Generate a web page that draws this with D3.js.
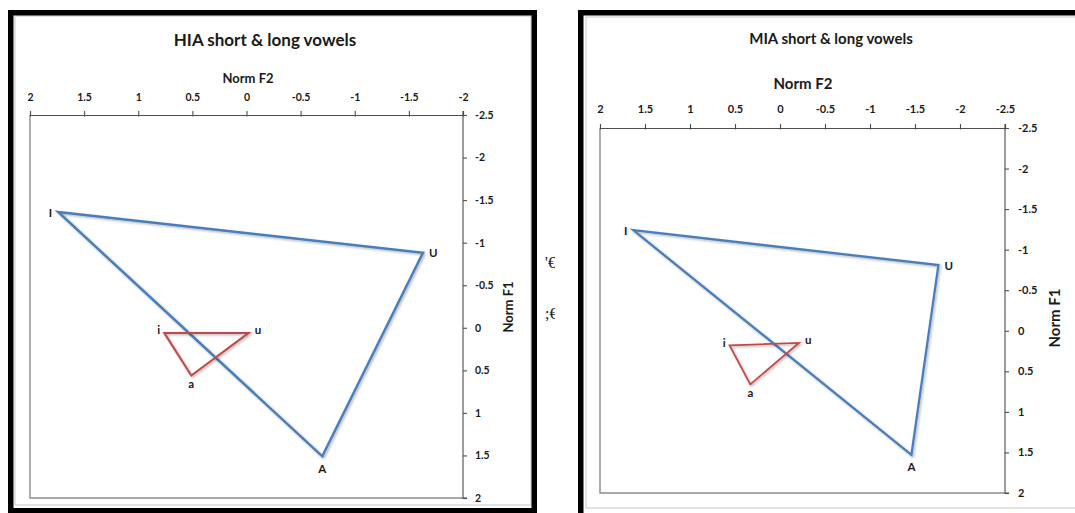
<!DOCTYPE html>
<html>
<head>
<meta charset="utf-8">
<script src="https://cdn.jsdelivr.net/npm/d3@7"></script>
<style>
  html, body { margin: 0; padding: 0; background: #fff; }
  svg { display: block; font-family: Lato, "Open Sans", "Liberation Sans", sans-serif; }
</style>
</head>
<body>
<svg id="chart" width="1075" height="513"></svg>
<script>
// Vowel labels
const longVowels = ["I", "U", "A"];
const shortVowels = ["i", "u", "a"];

// HIA: normalised formant values (F2 horizontal, F1 vertical)
const hiaLongF2 = [1.74, -1.63, -0.70];
const hiaLongF1 = [-1.36, -0.88, 1.51];
const hiaShortF2 = [0.76, -0.02, 0.51];
const hiaShortF1 = [0.06, 0.06, 0.56];

// MIA: normalised formant values
const miaLongF2 = [1.63, -1.76, -1.46];
const miaLongF1 = [-1.24, -0.81, 1.53];
const miaShortF2 = [0.56, -0.21, 0.33];
const miaShortF1 = [0.18, 0.15, 0.66];

// Axis ticks
const hiaF2Ticks = [2, 1.5, 1, 0.5, 0, -0.5, -1, -1.5, -2];
const miaF2Ticks = [2, 1.5, 1, 0.5, 0, -0.5, -1, -1.5, -2, -2.5];
const f1Ticks = [-2.5, -2, -1.5, -1, -0.5, 0, 0.5, 1, 1.5, 2];

const svg = d3.select("#chart");
const fmt = d => String(d);

const defs = svg.append("defs");
const shadow = defs.append("filter").attr("id", "lineShadow")
  .attr("x", "-10%").attr("y", "-10%").attr("width", "130%").attr("height", "130%");
shadow.append("feDropShadow")
  .attr("dx", 1.3).attr("dy", 1.3).attr("stdDeviation", 0.9)
  .attr("flood-color", "#000").attr("flood-opacity", 0.3);

defs.append("clipPath").attr("id", "gapClip")
  .append("rect").attr("x", 540).attr("y", 0).attr("width", 15).attr("height", 513);

// Labels that sit on the document behind the two charts, partly covered by them
const gap = svg.append("g").attr("clip-path", "url(#gapClip)")
  .style("font-family", "'Liberation Serif', serif").style("font-size", "16px").attr("fill", "#222");
gap.append("text").attr("x", 545).attr("y", 268).text("'€");
gap.append("text").attr("x", 545).attr("y", 319).text(";€");

const labelPlacement = {
  I: { dx: -6, dy: 0, anchor: "end" },
  U: { dx: 6, dy: 0, anchor: "start" },
  A: { dx: 0, dy: 12, anchor: "middle" },
  i: { dx: -4, dy: -3, anchor: "end" },
  u: { dx: 6, dy: -3, anchor: "start" },
  a: { dx: 0, dy: 8, anchor: "middle" }
};

function drawPanel(p) {
  const g = svg.append("g");

  // chart-area outline and heavy frame
  g.append("rect")
    .attr("x", p.inner[0]).attr("y", p.inner[1])
    .attr("width", p.inner[2]).attr("height", p.inner[3])
    .attr("fill", "#fff").attr("stroke", "#c8c8c8").attr("stroke-width", 1);
  g.append("rect")
    .attr("x", p.frame[0]).attr("y", p.frame[1])
    .attr("width", p.frame[2]).attr("height", p.frame[3])
    .attr("fill", "none").attr("stroke", "#000").attr("stroke-width", 5.5);

  const x = d3.scaleLinear().domain(p.f2Domain).range([p.plot.left, p.plot.right]);
  const y = d3.scaleLinear().domain([-2.5, 2]).range([p.plot.top, p.plot.bottom]);

  // plot-area border (left and bottom)
  g.append("path")
    .attr("d", `M${p.plot.left},${p.plot.top}V${p.plot.bottom}H${p.plot.right}`)
    .attr("fill", "none").attr("stroke", "#8c8c8c").attr("stroke-width", 1.4);

  // Norm F2 axis along the top
  const xAxis = g.append("g")
    .attr("transform", `translate(0,${p.plot.top})`)
    .call(d3.axisTop(x).tickValues(p.f2Ticks).tickFormat(fmt).tickSize(4).tickPadding(p.xPad));
  xAxis.selectAll(".tick line").attr("y1", 1.5);

  // Norm F1 axis on the right
  const yAxis = g.append("g")
    .attr("transform", `translate(${p.plot.right},0)`)
    .call(d3.axisRight(y).tickValues(f1Ticks).tickFormat(fmt).tickSize(4).tickPadding(p.yPad));

  [xAxis, yAxis].forEach(ax => {
    ax.select(".domain").attr("stroke", "#4d4d4d").attr("stroke-width", 1.1);
    ax.selectAll(".tick line").attr("stroke", "#4d4d4d").attr("stroke-width", 1.1);
    ax.selectAll(".tick text")
      .attr("fill", "#1a1a1a")
      .style("font-family", "Lato, sans-serif")
      .style("font-weight", "bold")
      .style("font-size", p.tickSize + "px");
  });
  yAxis.select(".domain").attr("d", `M0,${p.plot.top - 4}V${p.plot.bottom}H4`);

  // titles
  g.append("text")
    .attr("x", p.titlePos[0]).attr("y", p.titlePos[1])
    .attr("text-anchor", "middle").attr("dominant-baseline", "central")
    .attr("fill", "#1a1a1a")
    .style("font-weight", "bold").style("font-size", p.titleSize + "px")
    .text(p.title);
  g.append("text")
    .attr("x", p.f2Pos[0]).attr("y", p.f2Pos[1])
    .attr("text-anchor", "middle").attr("dominant-baseline", "central")
    .attr("fill", "#1a1a1a")
    .style("font-weight", "bold").style("font-size", p.axisTitleSize + "px")
    .text("Norm F2");
  g.append("text")
    .attr("transform", `translate(${p.f1Pos[0]},${p.f1Pos[1]}) rotate(-90)`)
    .attr("text-anchor", "middle").attr("dominant-baseline", "central")
    .attr("fill", "#1a1a1a")
    .style("font-weight", "bold").style("font-size", p.axisTitleSize + "px")
    .text("Norm F1");

  const line = d3.line().x(d => x(d.f2)).y(d => y(d.f1)).curve(d3.curveLinearClosed);

  p.series.forEach(s => {
    const pts = s.names.map((n, k) => ({ name: n, f2: s.f2[k], f1: s.f1[k] }));
    g.append("path")
      .datum(pts)
      .attr("d", line)
      .attr("fill", "none")
      .attr("stroke", s.color)
      .attr("stroke-width", s.width)
      .attr("stroke-linejoin", "miter")
      .attr("filter", "url(#lineShadow)");
    g.selectAll(null).data(pts).enter().append("text")
      .attr("x", d => x(d.f2) + labelPlacement[d.name].dx)
      .attr("y", d => y(d.f1) + labelPlacement[d.name].dy)
      .attr("text-anchor", d => labelPlacement[d.name].anchor)
      .attr("dominant-baseline", "central")
      .attr("fill", "#1a1a1a")
      .style("font-weight", "bold").style("font-size", "11.5px")
      .text(d => d.name);
  });
}

drawPanel({
  frame: [10.75, 12.75, 523.5, 498],
  inner: [15, 16, 516, 489],
  plot: { left: 30, right: 463, top: 115, bottom: 498 },
  f2Domain: [2, -2],
  f2Ticks: hiaF2Ticks,
  xPad: 10, yPad: 8, tickSize: 10.5,
  title: "HIA short & long vowels", titlePos: [265, 39], titleSize: 17,
  f2Pos: [248, 78], f1Pos: [508, 307], axisTitleSize: 13,
  series: [
    { names: longVowels, f2: hiaLongF2, f1: hiaLongF1, color: "#4A7EBB", width: 2.5 },
    { names: shortVowels, f2: hiaShortF2, f1: hiaShortF1, color: "#BE4B48", width: 2 }
  ]
});

drawPanel({
  frame: [580.75, 12.75, 600, 600],
  inner: [586, 17, 600, 491],
  plot: { left: 600, right: 1005, top: 128, bottom: 493 },
  f2Domain: [2, -2.5],
  f2Ticks: miaF2Ticks,
  xPad: 11, yPad: 9, tickSize: 11,
  title: "MIA short & long vowels", titlePos: [831, 38], titleSize: 15,
  f2Pos: [803, 83], f1Pos: [1054, 318], axisTitleSize: 15,
  series: [
    { names: longVowels, f2: miaLongF2, f1: miaLongF1, color: "#4A7EBB", width: 2.3 },
    { names: shortVowels, f2: miaShortF2, f1: miaShortF1, color: "#BE4B48", width: 1.8 }
  ]
});
</script>
</body>
</html>
